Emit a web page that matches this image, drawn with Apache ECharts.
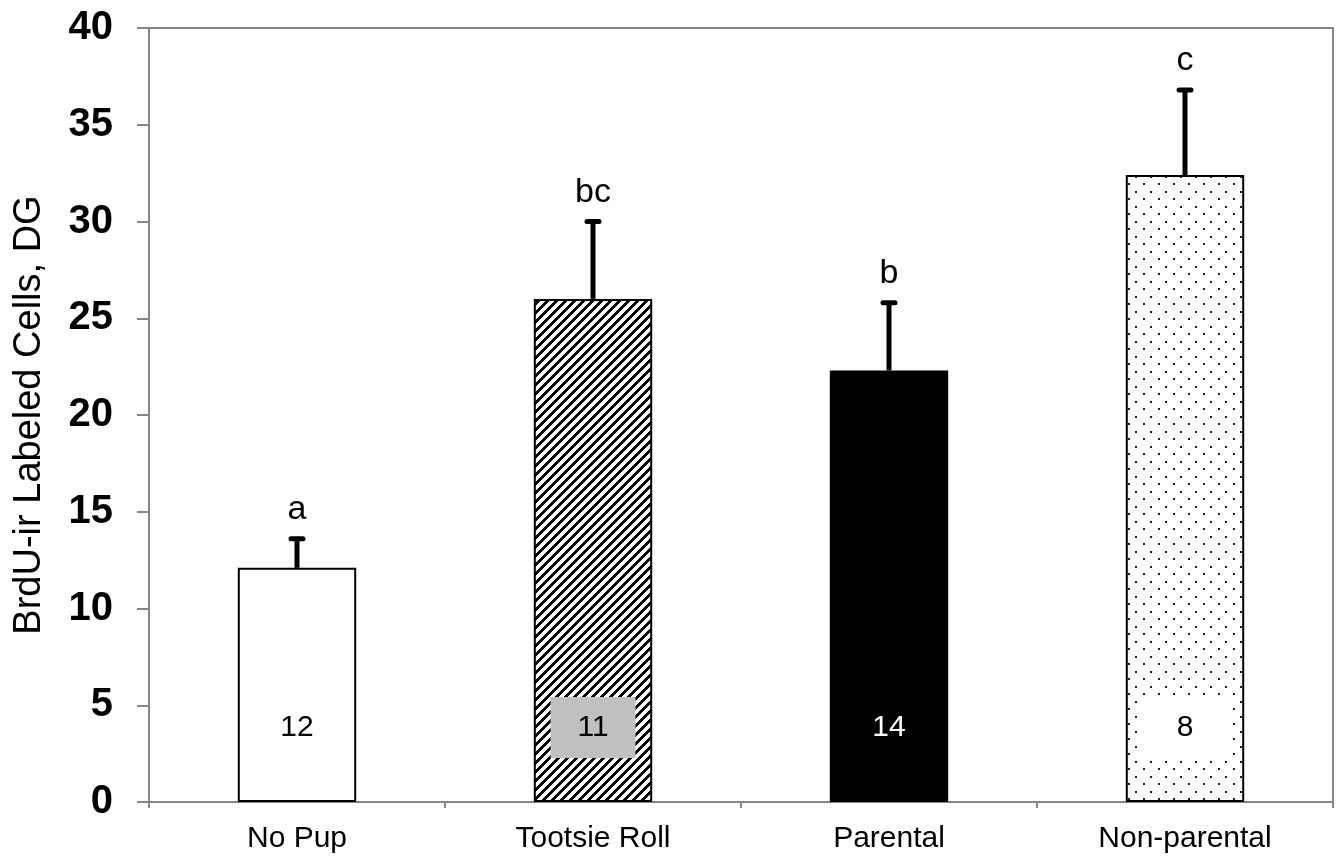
<!DOCTYPE html>
<html>
<head>
<meta charset="utf-8">
<title>BrdU-ir Labeled Cells, DG</title>
<script src="https://cdn.jsdelivr.net/npm/echarts@6/dist/echarts.min.js"></script>
<style>
  html, body { margin: 0; padding: 0; background: #fff; }
  #chart { width: 1342px; height: 859px; }
</style>
</head>
<body>
<div id="chart"></div>
<script>
// data
var groups = ['No Pup', 'Tootsie Roll', 'Parental', 'Non-parental'];
var means = [12.1, 26.0, 22.3, 32.4];
var upperErr = [13.6, 30.0, 25.8, 36.8];   // top of the SEM bar
var letters = ['a', 'bc', 'b', 'c'];
var nCounts = ['12', '11', '14', '8'];
var yTicks = [0, 5, 10, 15, 20, 25, 30, 35, 40];

var font = '"Liberation Sans", Arial, sans-serif';
var grayLine = '#868686';

// fill patterns for the bars
function makeHatch() {
  var c = document.createElement('canvas');
  c.width = 9; c.height = 9;
  var ctx = c.getContext('2d');
  ctx.fillStyle = '#fff';
  ctx.fillRect(0, 0, 9, 9);
  ctx.fillStyle = '#000';
  for (var x = 0; x < 9; x++) {
    for (var y = 0; y < 9; y++) {
      if ((x + y) % 9 < 4) ctx.fillRect(x, y, 1, 1);
    }
  }
  return c;
}
function makeDots() {
  var c = document.createElement('canvas');
  c.width = 15; c.height = 15;
  var ctx = c.getContext('2d');
  ctx.fillStyle = '#fff';
  ctx.fillRect(0, 0, 15, 15);
  ctx.fillStyle = '#222';
  ctx.fillRect(3, 3, 2, 2);
  ctx.fillRect(10, 11, 2, 2);
  return c;
}

var barFills = [
  '#ffffff',
  { image: makeHatch(), repeat: 'repeat' },
  '#000000',
  { image: makeDots(), repeat: 'repeat' }
];
var nBoxColors = ['#ffffff', '#c0c0c0', 'transparent', '#ffffff'];
var nTextColors = ['#000', '#000', '#fff', '#000'];

var barData = means.map(function (v, i) {
  return {
    value: v,
    itemStyle: { color: barFills[i] },
    label: {
      formatter: nCounts[i],
      backgroundColor: nBoxColors[i],
      color: nTextColors[i]
    }
  };
});

var errData = means.map(function (v, i) {
  return [i, v, upperErr[i]];
});

var chart = echarts.init(document.getElementById('chart'));
var option = {
  animation: false,
  grid: {
    left: 149, right: 9, top: 28, bottom: 57,
    show: true,
    borderColor: grayLine,
    borderWidth: 2
  },
  xAxis: {
    type: 'category',
    data: groups,
    axisLine: { lineStyle: { color: grayLine, width: 2 } },
    axisTick: { show: true, length: 6, lineStyle: { color: grayLine, width: 2 } },
    axisLabel: { color: '#000', fontSize: 30, fontFamily: font, margin: 22 }
  },
  yAxis: {
    type: 'value',
    min: yTicks[0],
    max: yTicks[yTicks.length - 1],
    interval: 5,
    name: 'BrdU-ir Labeled Cells, DG',
    nameLocation: 'middle',
    nameGap: 100,
    nameTextStyle: { color: '#000', fontSize: 38, fontFamily: font },
    splitLine: { show: false },
    axisLine: { show: true, lineStyle: { color: grayLine, width: 2 } },
    axisTick: { show: true, length: 12, lineStyle: { color: grayLine, width: 2 } },
    axisLabel: { color: '#000', fontSize: 40, fontWeight: 'bold', fontFamily: font, margin: 36 }
  },
  series: [
    {
      type: 'bar',
      data: barData,
      barWidth: '40%',
      itemStyle: { borderColor: '#000', borderWidth: 2 },
      label: {
        show: true,
        position: 'insideBottom',
        distance: 44,
        width: 85,
        height: 61,
        lineHeight: 61,
        align: 'center',
        fontSize: 30,
        fontFamily: font
      }
    },
    {
      type: 'custom',
      data: errData,
      z: 5,
      renderItem: function (params, api) {
        var i = api.value(0);
        var base = api.coord([i, api.value(1)]);
        var top = api.coord([i, api.value(2)]);
        return {
          type: 'group',
          children: [
            {
              type: 'line',
              shape: { x1: base[0], y1: base[1], x2: top[0], y2: top[1] },
              style: { stroke: '#000', lineWidth: 5 }
            },
            {
              type: 'line',
              shape: { x1: top[0] - 6, y1: top[1], x2: top[0] + 6, y2: top[1] },
              style: { stroke: '#000', lineWidth: 5, lineCap: 'round' }
            },
            {
              type: 'text',
              x: top[0],
              y: top[1] - 12,
              style: {
                text: letters[i],
                fill: '#000',
                font: '34px ' + font,
                align: 'center',
                verticalAlign: 'bottom'
              }
            }
          ]
        };
      }
    }
  ]
};
chart.setOption(option);
</script>
</body>
</html>
